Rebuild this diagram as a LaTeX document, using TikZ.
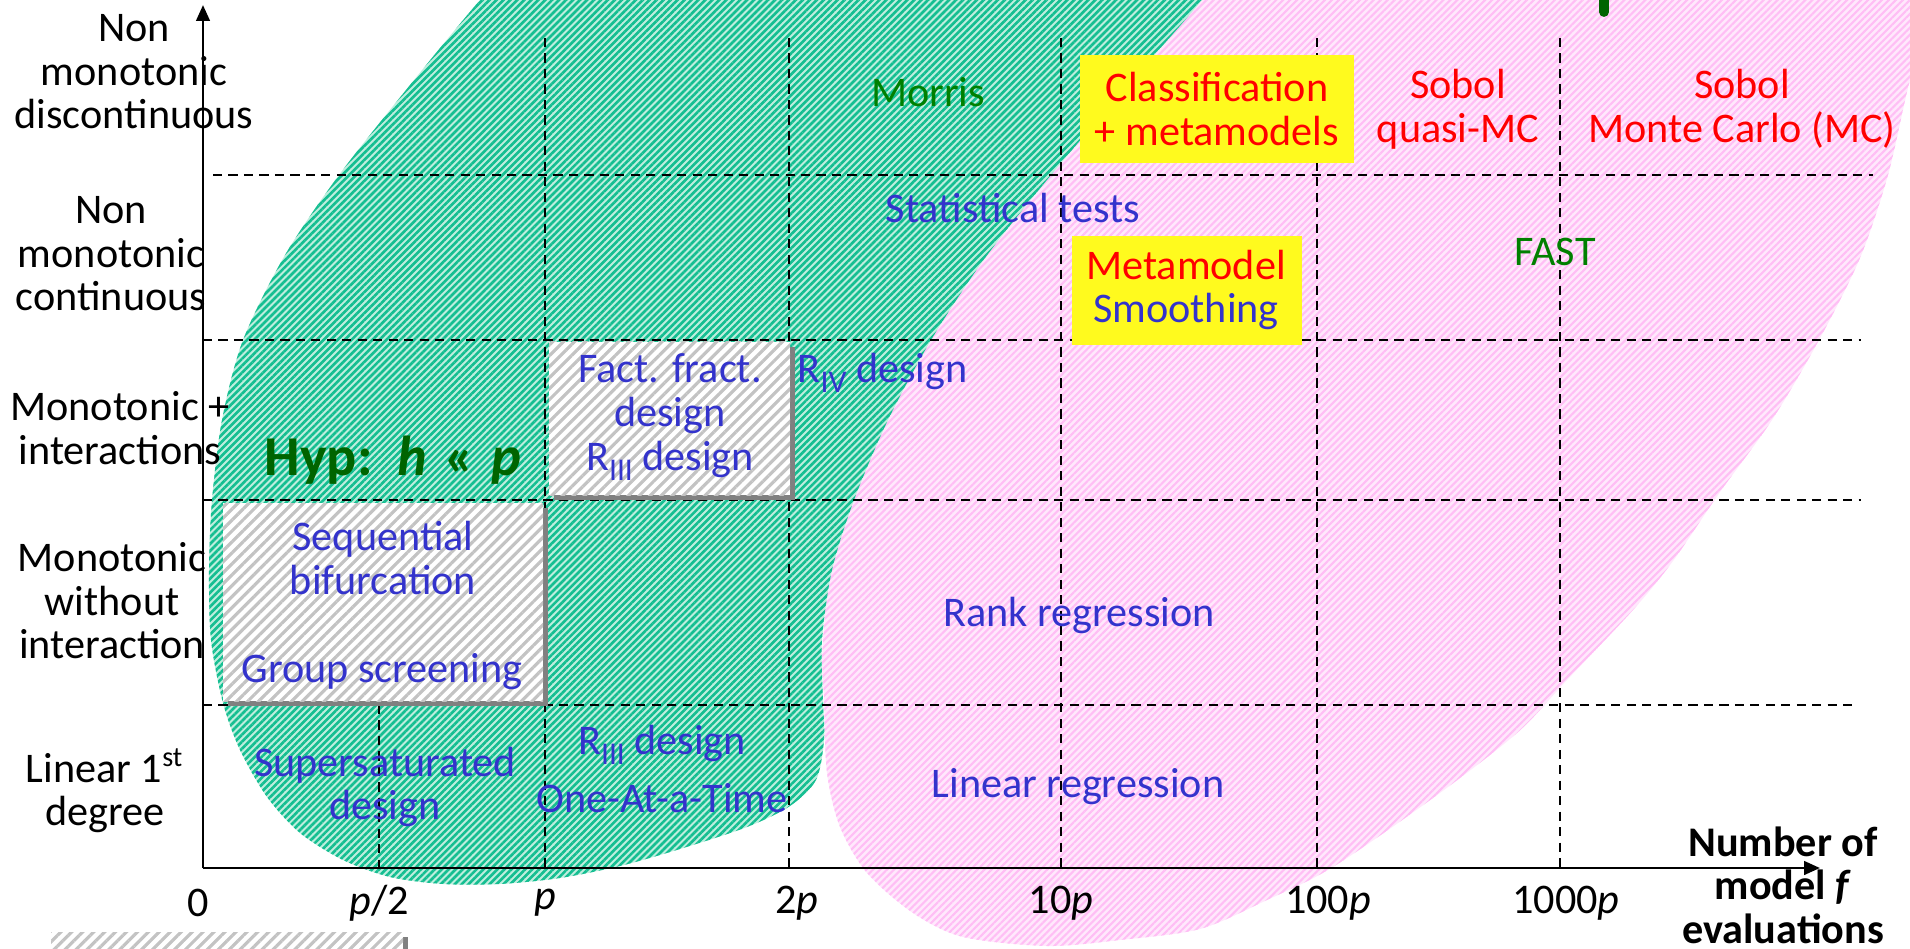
\documentclass[tikz,border=0pt]{standalone}
\usepackage{fontspec}
\setmainfont{Carlito}
\usetikzlibrary{patterns.meta,arrows.meta}
\definecolor{hatchgreen}{RGB}{20,190,145}
\definecolor{mintbg}{RGB}{190,238,222}
\definecolor{hatchpink}{RGB}{255,190,245}
\definecolor{pinkbg}{RGB}{255,232,252}
\definecolor{hatchgray}{RGB}{195,195,195}
\definecolor{shadowgray}{RGB}{128,128,128}
\definecolor{methblue}{RGB}{51,51,204}
\definecolor{methred}{RGB}{255,0,0}
\definecolor{methgreen}{RGB}{0,128,0}
\definecolor{hypgreen}{RGB}{0,100,0}
\definecolor{boxyellow}{RGB}{255,250,30}
\newcommand{\rsub}[1]{\raisebox{-0.5ex}{\fontsize{9}{9}\selectfont #1}}
\begin{document}
\begin{tikzpicture}[x=0.01cm,y=-0.01cm,
    every node/.style={font=\fontsize{12}{12.4}\selectfont, align=center, inner sep=0pt},
    gridline/.style={dash pattern=on 2.6pt off 1.8pt, line width=0.6pt},
    axisline/.style={line width=0.8pt, -{Triangle[length=4.5pt,width=3.8pt]}},
    greenzone/.style={preaction={fill=mintbg}, pattern={Lines[angle=45,distance=1.4pt,line width=0.75pt]}, pattern color=hatchgreen},
    pinkzone/.style={preaction={fill=pinkbg}, pattern={Lines[angle=45,distance=1.4pt,line width=0.6pt]}, pattern color=hatchpink},
    graybox/.style={preaction={fill=white}, pattern={Lines[angle=45,distance=2.2pt,line width=0.9pt]}, pattern color=hatchgray},
    blue/.style={text=methblue},
    red/.style={text=methred},
    green/.style={text=methgreen}]
    \useasboundingbox (0,0) rectangle (1910,949);
    \clip (0,0) rectangle (1910,949);

    \fill[pinkzone] plot[smooth cycle, tension=0.5] coordinates {(823,640) (824,700) (827,773) (840,827) (867,873) (913,913) (963,937) (1047,946) (1120,940) (1200,929) (1267,900) (1333,867) (1433,798) (1517,733) (1567,680) (1633,610) (1673,561) (1720,492) (1772,420) (1819,340) (1860,258) (1888,175) (1910,80) (1935,0) (1960,-100) (1700,-250) (1300,-150) (1100,0) (980,170) (900,340) (840,500)};
    \fill[greenzone] plot[smooth cycle, tension=0.5] coordinates {(480,0) (410,85) (339,175) (285,255) (243,340) (222,420) (212,500) (209,570) (211,640) (223,703) (240,750) (267,797) (300,833) (343,860) (390,877) (443,884) (500,884) (560,878) (620,866) (680,849) (747,827) (790,806) (816,780) (824,740) (823,700) (822,640) (832,570) (854,500) (888,420) (931,340) (985,258) (1051,175) (1125,88) (1202,0) (1270,-90) (1100,-250) (700,-250) (560,-90)};

    \draw[gridline] (213,175) -- (1873,175);
    \draw[gridline] (203,340) -- (1861,340);
    \draw[gridline] (203,500) -- (1861,500);
    \draw[gridline] (203,705) -- (1858,705);
    \draw[gridline] (379,705) -- (379,868);
    \foreach \x in {545,789,1061,1317,1560}
        \draw[gridline] (\x,38) -- (\x,868);

    \coordinate (origin) at (203,868);
    \coordinate (ytop) at (203,5);
    \coordinate (xend) at (1820,868);
    \draw[axisline] (origin) -- (ytop);
    \draw[axisline] (origin) -- (xend);

    \fill[shadowgray] (554,347) rectangle (795,500);
    \fill[graybox] (549,342) rectangle (790,495);
    \fill[shadowgray] (228,508) rectangle (548,706);
    \fill[graybox] (223,503) rectangle (543,701);
    \fill[shadowgray] (56,937) rectangle (408,965);
    \fill[graybox] (51,932) rectangle (403,960);
    \fill[boxyellow] (1080,55) rectangle (1354,163);
    \fill[boxyellow] (1072,236) rectangle (1302,345);
    \draw[hypgreen, line width=2.8pt, line cap=round] (1604,-10) -- (1604,12);

    \node (nmd) at (134,72) {Non\\monotonic\\discontinuous};
    \node (nmc) at (111,254) {Non\\monotonic\\continuous};
    \node (mi) at (120,428) {Monotonic +\\interactions};
    \node (mwi) at (112,601) {Monotonic\\without\\interaction};
    \node (lin) at (105,791) {Linear 1\textsuperscript{st}\\degree};

    \node (t0) at (198,903) {0};
    \node (thalf) at (379,903) {\textit{p}/2};
    \node (tp) at (545,903) {\textit{p}};
    \node (t2p) at (797,903) {2\textit{p}};
    \node (t10p) at (1061,903) {10\textit{p}};
    \node (t100p) at (1328,903) {100\textit{p}};
    \node (t1000p) at (1566,903) {1000\textit{p}};
    \node[font=\fontsize{12}{12.4}\selectfont\bfseries] (xlab) at (1783,885) {Number of\\model \textit{f}\\evaluations};

    \node[green] (morris) at (928,92) {Morris};
    \node[red] (classif) at (1217,109) {Classification\\+ metamodels};
    \node[red] (sobolq) at (1458,109) {Sobol\\quasi-MC};
    \node[red] (sobolmc) at (1742,109) {Sobol\\Monte Carlo (MC)};
    \node[blue] (stat) at (1013,208) {Statistical tests};
    \node (smooth) at (1186,290) {\textcolor{methred}{Metamodel}\\\textcolor{methblue}{Smoothing}};
    \node[green] (fast) at (1555,252) {FAST};
    \node[blue] (ffd) at (670,417) {Fact. fract.\\design\\R\rsub{III} design};
    \node[blue, anchor=west] (r4) at (797,373) {R\rsub{IV} design};
    \node[text=hypgreen, font=\fontsize{16}{17}\selectfont\bfseries] (hyp) at (393,460) {Hyp:\hspace{0.45em}\textit{h}\hspace{0.3em}«\hspace{0.3em}\textit{p}};
    \node[blue] (seq) at (383,558) {Sequential\\bifurcation};
    \node[blue] (group) at (382,672) {Group screening};
    \node[blue] (rank) at (1079,615) {Rank regression};
    \node[blue] (super) at (385,787) {Supersaturated\\design};
    \node[blue] (oat) at (662,769) {R\rsub{III} design\\[4pt]One-At-a-Time};
    \node[blue] (linreg) at (1078,787) {Linear regression};
\end{tikzpicture}
\end{document}
